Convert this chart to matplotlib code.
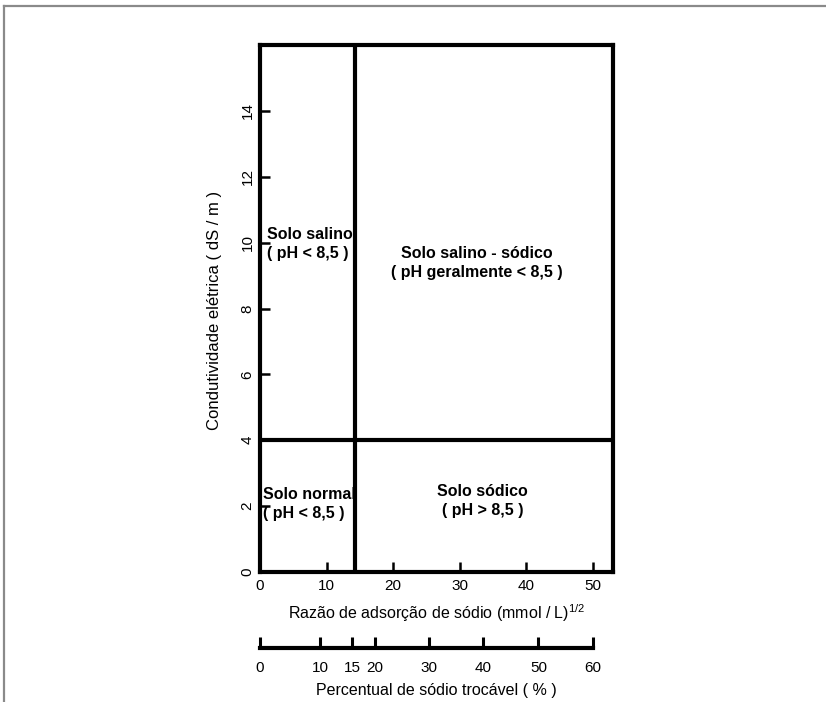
import matplotlib
matplotlib.use("Agg")
import matplotlib.pyplot as plt
from matplotlib.lines import Line2D

plt.rcParams["font.family"] = ["Liberation Sans", "DejaVu Sans"]
plt.rcParams["mathtext.fontset"] = "custom"
plt.rcParams["mathtext.rm"] = "Liberation Sans"

# limits of the classification (RAS x CE)
ras_limit = 14.3
ce_limit = 4
ras_max = 53
ce_max = 16

ras_ticks = [0, 10, 20, 30, 40, 50]
ce_ticks = [0, 2, 4, 6, 8, 10, 12, 14]

# PST scale, with the RAS position read under each PST tick
pst_labels = [0, 10, 15, 20, 30, 40, 50, 60]
pst_at_ras = [0, 9.0, 13.8, 17.3, 25.3, 33.5, 41.8, 50]

regions = [
    ("Solo salino\n( pH < 8,5 )", 1.0, 9.97, "left"),
    ("Solo salino - sódico\n( pH geralmente < 8,5 )", 32.6, 9.38, "center"),
    ("Solo normal\n( pH < 8,5 )", 0.4, 2.06, "left"),
    ("Solo sódico\n( pH > 8,5 )", 33.4, 2.16, "center"),
]

fig = plt.figure(figsize=(8.26, 7.02), dpi=100)

# thin gray frame (top and left only, as in the scan)
fig.add_artist(Line2D([4 / 826, 1], [1 - 6 / 702, 1 - 6 / 702], color="#8a8a8a", lw=1.6))
fig.add_artist(Line2D([4 / 826, 4 / 826], [0, 1 - 6 / 702], color="#8a8a8a", lw=1.6))

ax = fig.add_axes([260 / 826, 1 - 572 / 702, 353 / 826, 527 / 702])
ax.set_xlim(0, ras_max)
ax.set_ylim(0, ce_max)
for s in ax.spines.values():
    s.set_linewidth(3)
ax.axvline(ras_limit, color="black", lw=3)
ax.axhline(ce_limit, color="black", lw=3)

ax.set_xticks(ras_ticks)
ax.set_yticks(ce_ticks)
ax.tick_params(direction="in", length=7, width=1.8, labelsize=11, pad=5)
ax.tick_params(axis="y", labelrotation=90, pad=4)
for lab in ax.get_yticklabels():
    lab.set_va("center")

for txt, x, y, ha in regions:
    ax.text(x, y, txt, ha=ha, va="center", fontsize=11.5, fontweight="bold",
            linespacing=1.35)

ax.set_xlabel(r"Razão de adsorção de sódio (mmol / L)$^{1/2}$", fontsize=11.5)
ax.xaxis.set_label_coords(0.5, -0.058)
fig.text(215 / 826, 1 - 310 / 702, "Condutividade elétrica ( dS / m )",
         rotation=90, ha="center", va="center", fontsize=12)

# second scale: percentual de sódio trocável
ax2 = fig.add_axes([260 / 826, 1 - 648 / 702, 353 / 826, 0.01])
ax2.set_xlim(0, ras_max)
ax2.set_ylim(0, 1)
for k in ["top", "left", "right"]:
    ax2.spines[k].set_visible(False)
ax2.spines["bottom"].set_linewidth(3)
ax2.spines["bottom"].set_bounds(0, 50)
ax2.patch.set_visible(False)
ax2.set_yticks([])
ax2.set_xticks(pst_at_ras)
ax2.set_xticklabels([str(v) for v in pst_labels])
ax2.tick_params(axis="x", direction="in", length=8, width=2.2, labelsize=11, pad=9)
ax2.set_xlabel("Percentual de sódio trocável ( % )", fontsize=11.5, labelpad=6)

fig.savefig("out.png", dpi=100)
